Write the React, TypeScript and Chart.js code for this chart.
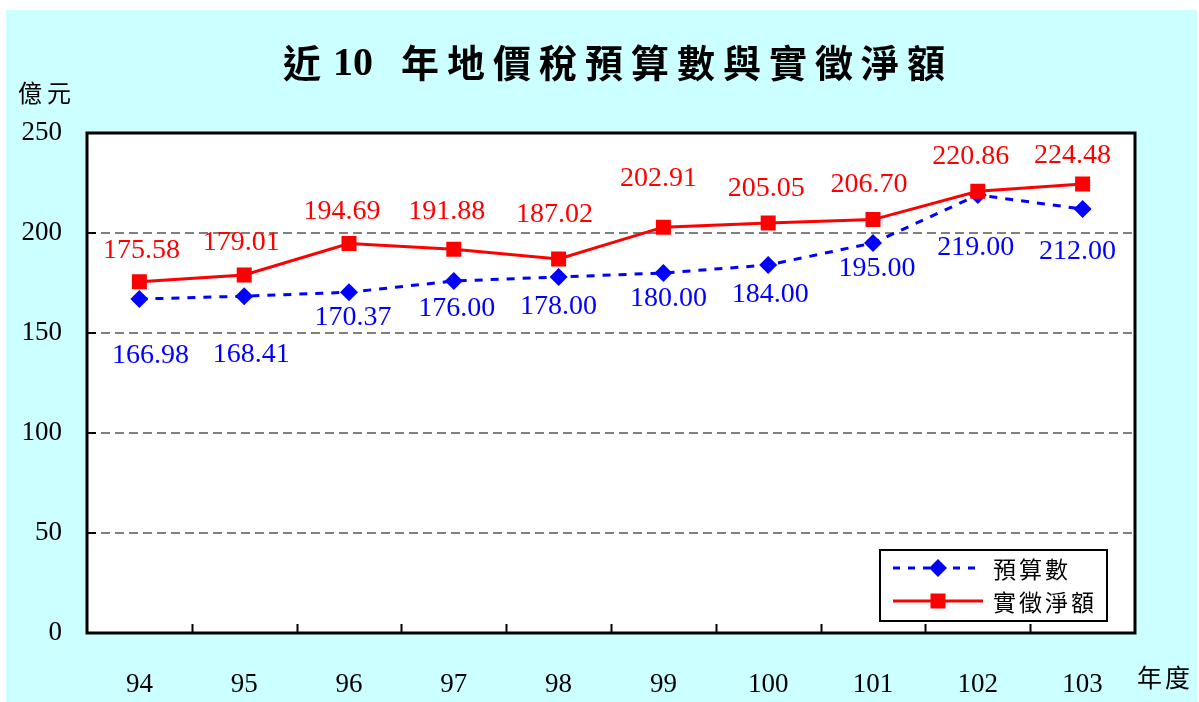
import React, { useEffect, useRef } from 'react';
import { Chart, registerables } from 'chart.js';

Chart.register(...registerables);

// ---- data ----
const years = ['94', '95', '96', '97', '98', '99', '100', '101', '102', '103'];
const budget = [166.98, 168.41, 170.37, 176.0, 178.0, 180.0, 184.0, 195.0, 219.0, 212.0];
const actual = [175.58, 179.01, 194.69, 191.88, 187.02, 202.91, 205.05, 206.7, 220.86, 224.48];
const yTicks = [0, 50, 100, 150, 200, 250];
const seriesNames = ['預算數', '實徵淨額'];
const titleHead = '近';
const titleNum = '10';
const titleTail = '年地價稅預算數與實徵淨額';
const yUnit = '億元';
const xUnit = '年度';

// label placement (pixel offsets of the value labels from their points)
const budgetLabelDx = [11, 7, 4, 3, 0, 5, 2, 4, -2, -5];
const budgetLabelDy = [57, 58, 25, 28, 30, 26, 30, 26, 53, 43];
const actualLabelDx = [2, -3, -7, -7, -4, -5, -2, -4, -7, -10];
const actualLabelDy = [-31, -32, -32, -38, -44, -49, -34, -35, -35, -28];

const BLUE = '#0000FF';
const RED = '#FF0000';
const CYAN = '#CCFFFF';
const SERIF = '"Liberation Serif", "Times New Roman", serif';
const CJK = '"Noto Sans CJK TC", "Noto Sans CJK SC", sans-serif';

const fmt = (v: number) => v.toFixed(2);

const decorPlugin = {
  id: 'decor',
  beforeDraw(chart: any) {
    const { ctx, chartArea } = chart;
    ctx.save();
    ctx.fillStyle = '#FFFFFF';
    ctx.fillRect(0, 0, chart.width, chart.height);
    ctx.fillStyle = CYAN;
    ctx.fillRect(6, 10, 1191, 692);
    ctx.fillStyle = '#FFFFFF';
    ctx.fillRect(chartArea.left, chartArea.top, chartArea.right - chartArea.left, chartArea.bottom - chartArea.top);
    ctx.restore();
  },
  afterDatasetsDraw(chart: any) {
    const { ctx } = chart;
    const drawLabels = (dsIndex: number, values: number[], dx: number[], dy: number[], color: string) => {
      const meta = chart.getDatasetMeta(dsIndex);
      ctx.save();
      ctx.font = `28px ${SERIF}`;
      ctx.fillStyle = color;
      ctx.textAlign = 'center';
      ctx.textBaseline = 'middle';
      meta.data.forEach((pt: any, i: number) => {
        ctx.fillText(fmt(values[i]), pt.x + dx[i], pt.y + dy[i]);
      });
      ctx.restore();
    };
    drawLabels(0, budget, budgetLabelDx, budgetLabelDy, BLUE);
    drawLabels(1, actual, actualLabelDx, actualLabelDy, RED);
  },
  afterDraw(chart: any) {
    const { ctx, chartArea } = chart;
    const xs = chart.scales.x;
    const ys = chart.scales.y;
    ctx.save();
    // inward tick marks
    ctx.strokeStyle = '#000';
    ctx.lineWidth = 2;
    ctx.beginPath();
    for (let i = 1; i < years.length; i++) {
      const x = Math.round((xs.getPixelForValue(i - 1) + xs.getPixelForValue(i)) / 2) + 0.5;
      ctx.moveTo(x, chartArea.bottom);
      ctx.lineTo(x, chartArea.bottom - 9);
    }
    yTicks.forEach((v) => {
      if (v === 0 || v === 250) return;
      const y = ys.getPixelForValue(v);
      ctx.moveTo(chartArea.left, y);
      ctx.lineTo(chartArea.left + 9, y);
    });
    ctx.stroke();
    // plot border
    ctx.lineWidth = 3;
    ctx.strokeRect(chartArea.left, chartArea.top, chartArea.right - chartArea.left, chartArea.bottom - chartArea.top);

    // title
    ctx.fillStyle = '#000';
    ctx.textBaseline = 'middle';
    ctx.textAlign = 'left';
    const ty = 63;
    ctx.font = `bold 38px ${CJK}`;
    ctx.fillText(titleHead, 283, ty);
    ctx.font = `bold 40px ${SERIF}`;
    ctx.fillText(titleNum, 333, ty + 2);
    ctx.font = `bold 38px ${CJK}`;
    Array.from(titleTail).forEach((ch, i) => ctx.fillText(ch, 401 + i * 46, ty));

    // axis unit labels
    ctx.font = `24px ${CJK}`;
    Array.from(yUnit).forEach((ch, i) => ctx.fillText(ch, 18 + i * 29, 93));
    ctx.font = `25px ${CJK}`;
    Array.from(xUnit).forEach((ch, i) => ctx.fillText(ch, 1137 + i * 28, 677));

    // legend
    const lx = 880, ly = 550, lw = 227, lh = 71;
    ctx.fillStyle = '#FFFFFF';
    ctx.fillRect(lx, ly, lw, lh);
    ctx.strokeStyle = '#000';
    ctx.lineWidth = 2;
    ctx.strokeRect(lx, ly, lw, lh);
    const rows = [568, 601];
    ctx.strokeStyle = BLUE;
    ctx.lineWidth = 3;
    ctx.setLineDash([7, 8]);
    ctx.beginPath();
    ctx.moveTo(893, rows[0]);
    ctx.lineTo(983, rows[0]);
    ctx.stroke();
    ctx.setLineDash([]);
    ctx.fillStyle = BLUE;
    ctx.beginPath();
    ctx.moveTo(938 - 9, rows[0]);
    ctx.lineTo(938, rows[0] - 9);
    ctx.lineTo(938 + 9, rows[0]);
    ctx.lineTo(938, rows[0] + 9);
    ctx.closePath();
    ctx.fill();
    ctx.strokeStyle = RED;
    ctx.beginPath();
    ctx.moveTo(893, rows[1]);
    ctx.lineTo(983, rows[1]);
    ctx.stroke();
    ctx.fillStyle = RED;
    ctx.fillRect(938 - 7.5, rows[1] - 7.5, 15, 15);
    ctx.fillStyle = '#000';
    ctx.font = `23px ${CJK}`;
    seriesNames.forEach((name, r) => {
      Array.from(name).forEach((ch, i) => ctx.fillText(ch, 993 + i * 26, rows[r] + 1));
    });
    ctx.restore();
  },
};

export default function App() {
  const ref = useRef<HTMLCanvasElement>(null);
  useEffect(() => {
    document.body.style.margin = '0';
    const canvas = ref.current!;
    const chart = new Chart(canvas, {
      type: 'line',
      data: {
        labels: years,
        datasets: [
          {
            label: seriesNames[0],
            data: budget,
            borderColor: BLUE,
            backgroundColor: BLUE,
            borderWidth: 3,
            borderDash: [8, 8],
            pointStyle: 'rectRot',
            pointRadius: 9,
            pointBorderWidth: 0,
            pointBackgroundColor: BLUE,
            pointBorderColor: BLUE,
            fill: false,
            tension: 0,
            order: 1,
          },
          {
            label: seriesNames[1],
            data: actual,
            borderColor: RED,
            backgroundColor: RED,
            borderWidth: 3,
            pointStyle: 'rect',
            pointRadius: 10.6,
            pointBorderWidth: 0,
            pointBackgroundColor: RED,
            pointBorderColor: RED,
            fill: false,
            tension: 0,
            order: 0,
          },
        ],
      },
      options: {
        responsive: false,
        animation: false,
        devicePixelRatio: 1,
        layout: { padding: { top: 133, right: 64, left: 0, bottom: 0 } },
        plugins: {
          legend: { display: false },
          title: { display: false },
          tooltip: { enabled: false },
        },
        scales: {
          x: {
            type: 'category',
            offset: true,
            grid: { display: false },
            border: { display: false },
            ticks: {
              color: '#000',
              font: { family: SERIF, size: 27 },
              padding: 28,
              maxRotation: 0,
              autoSkip: false,
            },
            afterFit: (s: any) => {
              s.height = 69;
            },
          },
          y: {
            min: 0,
            max: 250,
            afterBuildTicks: (s: any) => {
              s.ticks = yTicks.map((v) => ({ value: v }));
            },
            grid: {
              color: (c: any) => (c.tick && (c.tick.value === 0 || c.tick.value === 250) ? 'rgba(0,0,0,0)' : '#808080'),
              lineWidth: 2,
              drawTicks: false,
            },
            border: { display: false, dash: [9, 5] },
            ticks: {
              color: '#000',
              font: { family: SERIF, size: 27 },
              padding: 25,
            },
            afterFit: (s: any) => {
              s.width = 87;
            },
          },
        },
      },
      plugins: [decorPlugin],
    } as any);
    return () => chart.destroy();
  }, []);
  return (
    <div style={{ position: 'absolute', left: 0, top: 0, width: 1199, height: 702 }}>
      <canvas ref={ref} width={1199} height={702} style={{ display: 'block', width: 1199, height: 702 }} />
    </div>
  );
}
